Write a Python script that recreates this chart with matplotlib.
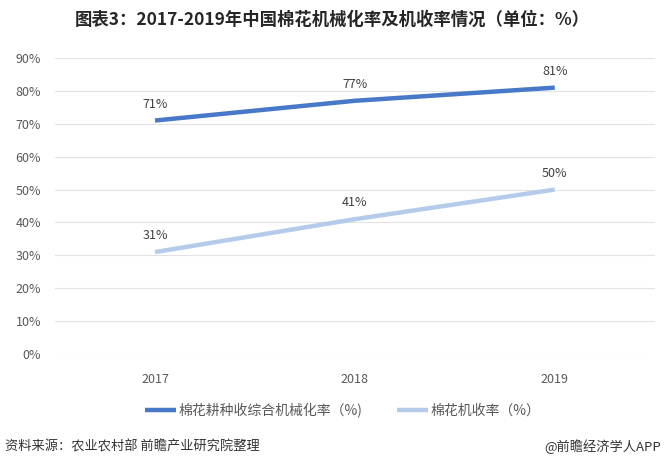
import matplotlib.pyplot as plt

plt.rcParams['font.family'] = ['Noto Sans CJK SC', 'DejaVu Sans']

years = ["2017", "2018", "2019"]
overall_rate = [71, 77, 81]
harvest_rate = [31, 41, 50]
y_ticks = [0, 10, 20, 30, 40, 50, 60, 70, 80, 90]

dark_blue = "#4878c8"
light_blue = "#b4cce9"
text_gray = "#595959"

fig = plt.figure(figsize=(6.64, 4.66), dpi=100)
ax = fig.add_axes([0.083, 0.2403, 0.903, 0.6352])

x = list(range(len(years)))
ax.plot(x, overall_rate, color=dark_blue, linewidth=3.2, solid_capstyle="butt",
        label="棉花耕种收综合机械化率（%)")
ax.plot(x, harvest_rate, color=light_blue, linewidth=3.2, solid_capstyle="butt",
        label="棉花机收率（%）")

for xi, v in zip(x, overall_rate):
    ax.annotate(f"{v}%", (xi, v), xytext=(0, 7), textcoords="offset points",
                ha="center", va="bottom", fontsize=9, color="#404040")
for xi, v in zip(x, harvest_rate):
    ax.annotate(f"{v}%", (xi, v), xytext=(0, 7), textcoords="offset points",
                ha="center", va="bottom", fontsize=9, color="#404040")

ax.set_xlim(-0.5, 2.5)
ax.set_ylim(0, 90)
ax.set_yticks(y_ticks)
ax.set_yticklabels([f"{t}%" for t in y_ticks])
ax.set_xticks(x)
ax.set_xticklabels(years)
ax.grid(axis="y", color="#e3e3e3", linewidth=0.8)
ax.set_axisbelow(True)
for s in ax.spines.values():
    s.set_visible(False)
ax.tick_params(axis="both", length=0, labelsize=9, colors=text_gray, pad=10)
ax.tick_params(axis="x", pad=14)

ax.legend(loc="center", bbox_to_anchor=(0.48, -0.19), ncol=2, frameon=False,
          fontsize=10, labelcolor=text_gray, handlelength=2.2, handletextpad=0.2,
          columnspacing=2.5)

fig.text(0.5, 0.957, "图表3：2017-2019年中国棉花机械化率及机收率情况（单位：%）",
         ha="center", va="center", fontsize=12.5, fontweight="bold", color="#262626")
fig.text(0.008, 0.041, "资料来源：农业农村部 前瞻产业研究院整理",
         ha="left", va="center", fontsize=9.5, color="#333333")
fig.text(0.995, 0.041, "@前瞻经济学人APP",
         ha="right", va="center", fontsize=9.5, color="#333333")

fig.savefig("out.png", dpi=100)
